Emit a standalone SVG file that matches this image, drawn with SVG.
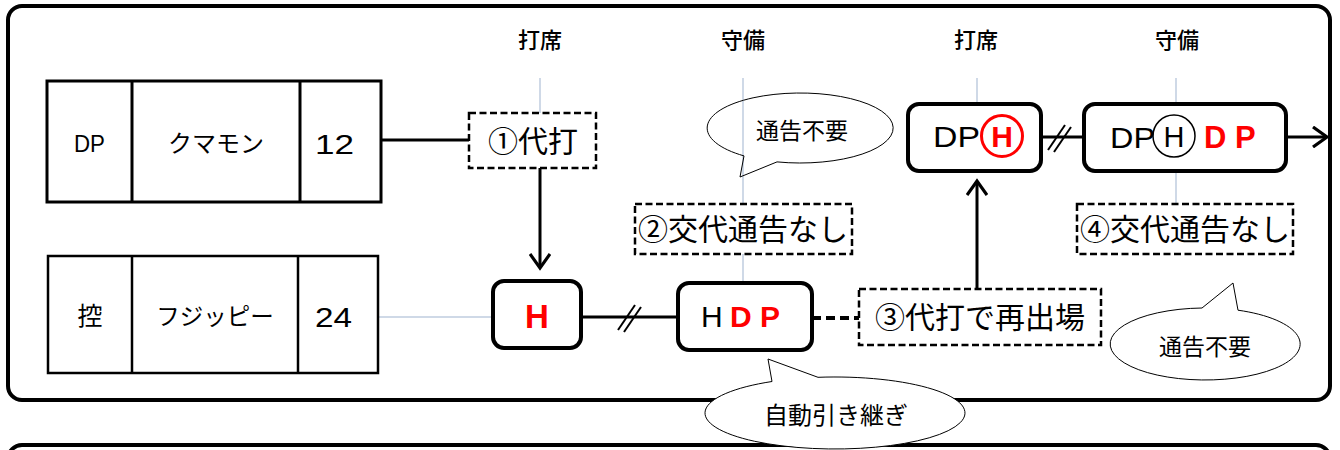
<svg xmlns="http://www.w3.org/2000/svg" width="1340" height="450" viewBox="0 0 1340 450">
<style>
.frame{fill:#fff;stroke:#000;stroke-width:4}
.cell{fill:#fff;stroke:#000;stroke-width:3}
.cell2{fill:#fff;stroke:#000;stroke-width:2.5}
.rbox{fill:#fff;stroke:#000;stroke-width:4}
.dbox{fill:#fff;stroke:#000;stroke-width:2.5;stroke-dasharray:7 3.5}
.guide{stroke:#9fb3cf;stroke-width:1;fill:none}
.conn{stroke:#000;stroke-width:3;fill:none}
.bubble{fill:#fff;stroke:#000;stroke-width:1}
.jp{font-family:"Noto Sans CJK JP","Noto Sans",sans-serif;fill:#000}
.lat{font-family:"Liberation Sans",Arial,sans-serif;fill:#000}
.red{fill:#ff0000;font-weight:bold}
</style>
<defs>
<marker id="arr" markerWidth="22" markerHeight="22" refX="16" refY="11" orient="auto" markerUnits="userSpaceOnUse">
<path d="M2,1 L16,11 L2,21" fill="none" stroke="#000" stroke-width="3.2"/>
</marker>
</defs>

<rect class="frame" x="8" y="6" width="1322" height="394" rx="14"/>
<rect class="frame" x="8" y="445" width="1322" height="60" rx="14"/>

<g id="headers">
<text class="jp" x="540" y="48" font-size="22" text-anchor="middle" font-weight="500">打席</text>
<text class="jp" x="743" y="48" font-size="22" text-anchor="middle" font-weight="500">守備</text>
<text class="jp" x="976" y="48" font-size="22" text-anchor="middle" font-weight="500">打席</text>
<text class="jp" x="1177" y="48" font-size="22" text-anchor="middle" font-weight="500">守備</text>
</g>

<g id="guides">
<line class="guide" x1="540" y1="78" x2="540" y2="113"/>
<line class="guide" x1="743" y1="78" x2="743" y2="204"/>
<line class="guide" x1="743" y1="254" x2="743" y2="283"/>
<line class="guide" x1="977" y1="78" x2="977" y2="104"/>
<line class="guide" x1="1176" y1="78" x2="1176" y2="104"/>
<line class="guide" x1="1176" y1="171" x2="1176" y2="204"/>
<line class="guide" x1="379" y1="317" x2="492" y2="317"/>
</g>

<g id="row-kumamon">
<rect class="cell" x="47" y="81" width="334" height="121"/>
<line class="cell" x1="132" y1="81" x2="132" y2="202"/>
<line class="cell" x1="300" y1="81" x2="300" y2="202"/>
<text class="lat" x="74" y="152" font-size="23" textLength="31" lengthAdjust="spacingAndGlyphs">DP</text>
<text class="jp" x="216" y="152" font-size="24" text-anchor="middle">クマモン</text>
<text class="lat" x="315" y="154" font-size="28" textLength="39" lengthAdjust="spacingAndGlyphs">12</text>
</g>

<g id="row-fujippy">
<rect class="cell2" x="48" y="256" width="330" height="117"/>
<line class="cell2" x1="132" y1="256" x2="132" y2="373"/>
<line class="cell2" x1="298" y1="256" x2="298" y2="373"/>
<text class="jp" x="90" y="325" font-size="25" text-anchor="middle">控</text>
<text class="jp" x="215" y="325" font-size="23.5" text-anchor="middle">フジッピー</text>
<text class="lat" x="315" y="327" font-size="28" textLength="37" lengthAdjust="spacingAndGlyphs">24</text>
</g>

<g id="connectors">
<line class="conn" x1="381" y1="140" x2="469" y2="140"/>
<line class="conn" x1="540" y1="168" x2="540" y2="268" marker-end="url(#arr)"/>
<line class="conn" x1="582" y1="317" x2="678" y2="317"/>
<line stroke="#000" stroke-width="2" x1="618" y1="330" x2="635" y2="305"/>
<line stroke="#000" stroke-width="2" x1="624" y1="332" x2="641" y2="307"/>
<line stroke="#000" stroke-width="4" stroke-dasharray="9 5" x1="812" y1="318" x2="859" y2="318"/>
<line class="conn" x1="977" y1="289" x2="977" y2="181" marker-end="url(#arr)"/>
<line class="conn" x1="1042" y1="137" x2="1084" y2="137"/>
<line stroke="#000" stroke-width="2" x1="1048" y1="150" x2="1065" y2="125"/>
<line stroke="#000" stroke-width="2" x1="1054" y1="152" x2="1071" y2="127"/>
<line class="conn" x1="1287" y1="137" x2="1327" y2="137" marker-end="url(#arr)"/>
</g>

<g id="step1">
<rect class="dbox" x="469" y="113" width="127" height="55"/>
<text class="jp" x="533" y="152" font-size="30" text-anchor="middle">①代打</text>
</g>

<g id="step2">
<rect class="dbox" x="635" y="204" width="217" height="50"/>
<text class="jp" x="743" y="240" font-size="30" text-anchor="middle">②交代通告なし</text>
</g>

<g id="step3">
<rect class="dbox" x="859" y="289" width="242" height="56"/>
<text class="jp" x="980" y="328" font-size="30" text-anchor="middle">③代打で再出場</text>
</g>

<g id="step4">
<rect class="dbox" x="1077" y="204" width="216" height="50"/>
<text class="jp" x="1185" y="240" font-size="30" text-anchor="middle">④交代通告なし</text>
</g>

<g id="node-h">
<rect class="rbox" x="493" y="281" width="88" height="67" rx="11"/>
<text class="lat red" x="537" y="328" font-size="33" text-anchor="middle">H</text>
</g>

<g id="node-hdp">
<rect class="rbox" x="678" y="283" width="134" height="67" rx="11"/>
<text class="lat" x="701" y="327" font-size="30">H</text>
<text class="lat red" x="730" y="327" font-size="30">D P</text>
</g>

<g id="node-dph">
<rect class="rbox" x="908" y="104" width="133" height="67" rx="11"/>
<text class="lat" x="933" y="147" font-size="30" textLength="47" lengthAdjust="spacingAndGlyphs">DP</text>
<circle cx="1002" cy="136" r="20.5" fill="none" stroke="#ff0000" stroke-width="3"/>
<text class="lat red" x="1002" y="147" font-size="30" text-anchor="middle">H</text>
</g>

<g id="node-dphdp">
<rect class="rbox" x="1084" y="104" width="202" height="67" rx="11"/>
<text class="lat" x="1110" y="148" font-size="30" textLength="45" lengthAdjust="spacingAndGlyphs">DP</text>
<circle cx="1174" cy="136" r="21" fill="none" stroke="#000" stroke-width="1.5"/>
<text class="lat" x="1174" y="147" font-size="29" text-anchor="middle">H</text>
<text class="lat red" x="1204" y="148" font-size="31">D P</text>
</g>

<g id="bubble-top">
<path class="bubble" d="M744,155.9 A93,35 0 1 1 777,161.9 L740,177 Z" style="fill:none"/>
<text class="jp" x="802" y="139" font-size="23" text-anchor="middle">通告不要</text>
</g>

<g id="bubble-right">
<path class="bubble" d="M1238,310.2 A95,36 0 1 1 1202,308 L1233,283 Z"/>
<text class="jp" x="1205" y="355" font-size="23" text-anchor="middle">通告不要</text>
</g>

<g id="bubble-bottom">
<path class="bubble" d="M818,377.3 A130,36 0 1 1 772,381.5 L768,359 Z"/>
<text class="jp" x="836" y="424" font-size="24" text-anchor="middle">自動引き継ぎ</text>
</g>
</svg>
